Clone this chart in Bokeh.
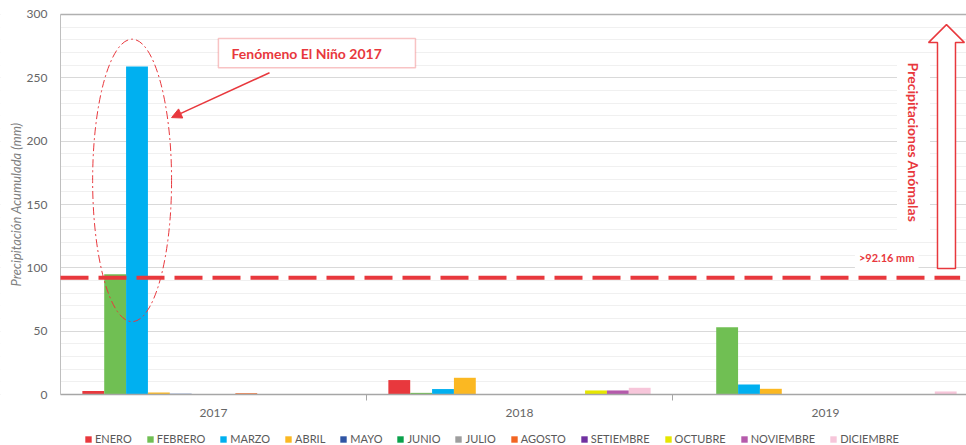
import math
from bokeh.plotting import figure
from bokeh.models import (Range1d, FixedTicker, Legend, LegendItem, Label,
                          Arrow, NormalHead, BoxAnnotation, ColumnDataSource)
from bokeh.embed import file_html
from bokeh.resources import INLINE

# ---------------- data ----------------
YEARS = ["2017", "2018", "2019"]
MONTHS = ["ENERO", "FEBRERO", "MARZO", "ABRIL", "MAYO", "JUNIO", "JULIO",
          "AGOSTO", "SETIEMBRE", "OCTUBRE", "NOVIEMBRE", "DICIEMBRE"]
ENERO = [2.8, 11.4, 0.0]
FEBRERO = [95.0, 1.3, 53.0]
MARZO = [259.0, 4.3, 7.9]
ABRIL = [1.5, 13.2, 4.5]
MAYO = [0.5, 0.0, 0.0]
JUNIO = [0.0, 0.0, 0.0]
JULIO = [0.0, 0.0, 0.0]
AGOSTO = [1.0, 0.0, 0.0]
SETIEMBRE = [0.3, 0.0, 0.0]
OCTUBRE = [0.0, 3.2, 0.2]
NOVIEMBRE = [0.0, 3.2, 0.3]
DICIEMBRE = [0.0, 5.3, 2.4]
SERIES = [ENERO, FEBRERO, MARZO, ABRIL, MAYO, JUNIO, JULIO, AGOSTO,
          SETIEMBRE, OCTUBRE, NOVIEMBRE, DICIEMBRE]
COLORS = ["#e8383d", "#70bf53", "#00b0f0", "#fbb822", "#2f55a4", "#0aa14b",
          "#9e9e9e", "#f26522", "#7030a0", "#e6e600", "#b55aab", "#f7c6da"]
THRESHOLD = 92.16
Y_TICKS = [0, 50, 100, 150, 200, 250, 300]
Y_MAX = 300

FONT = "Lato"
RED = "#e8383d"
GRAY = "#666666"

# frame covers the whole figure; axes are pinned at data 0
p = figure(width=966, height=445, output_backend="svg", toolbar_location=None,
           x_range=Range1d(-0.19608, 2.9608), y_range=Range1d(-40.26, 311.05),
           min_border=0)
p.outline_line_color = None
p.background_fill_color = "white"
p.border_fill_color = "white"

# grid
p.xgrid.grid_line_color = None
p.yaxis.ticker = FixedTicker(ticks=Y_TICKS, minor_ticks=list(range(0, Y_MAX + 1, 10)))
p.ygrid.grid_line_color = "#d9d9d9"
p.ygrid.minor_grid_line_color = "#f0f0f0"
# hide grid left of the y axis
p.add_layout(BoxAnnotation(right=0, fill_color="white", fill_alpha=1,
                           line_color=None, level="underlay"))
p.segment(x0=[0], y0=[Y_MAX], x1=[3], y1=[Y_MAX], line_color="#b0b0b0", line_width=1.5)

# y axis
p.yaxis.fixed_location = 0
p.yaxis.bounds = (0, Y_MAX)
p.yaxis.axis_line_color = "#bfbfbf"
p.yaxis.major_tick_line_color = None
p.yaxis.minor_tick_line_color = None
p.yaxis.major_label_text_font = FONT
p.yaxis.major_label_text_font_size = "12px"
p.yaxis.major_label_text_color = GRAY
p.yaxis.major_label_standoff = 7
p.yaxis.axis_label = "Precipitación Acumulada (mm)"
p.yaxis.axis_label_text_font = FONT
p.yaxis.axis_label_text_font_size = "13px"
p.yaxis.axis_label_text_font_style = "italic"
p.yaxis.axis_label_text_color = "#7f7f7f"
p.yaxis.axis_label_standoff = 0

# x axis (categories centred in groups, ticks at group boundaries)
centers = [i + 0.5 for i in range(len(YEARS))]
p.xaxis.fixed_location = 0
p.xaxis.bounds = (0, len(YEARS))
p.xaxis.ticker = FixedTicker(ticks=centers, minor_ticks=[1, 2])
p.xaxis.major_label_overrides = {c: y for c, y in zip(centers, YEARS)}
p.xaxis.axis_line_color = "#a6a6a6"
p.xaxis.axis_line_width = 1.5
p.xaxis.major_tick_line_color = None
p.xaxis.major_tick_out = 0
p.xaxis.minor_tick_line_color = "#a6a6a6"
p.xaxis.minor_tick_out = 6
p.xaxis.minor_tick_in = 0
p.xaxis.major_label_text_font = FONT
p.xaxis.major_label_text_font_size = "12px"
p.xaxis.major_label_text_color = GRAY
p.xaxis.major_label_standoff = 8

# bars
slot = 1.0 / 14
items = []
for i, (name, vals, col) in enumerate(zip(MONTHS, SERIES, COLORS)):
    src = ColumnDataSource(dict(x=[g + (i + 1.5) * slot for g in range(len(YEARS))], top=vals))
    r = p.vbar(x="x", top="top", width=slot, source=src, fill_color=col, line_color=None)
    items.append(LegendItem(label=name, renderers=[r]))

legend = Legend(items=items, orientation="horizontal", location=(84, 0),
                glyph_width=8, glyph_height=8, label_standoff=3, spacing=14,
                padding=2, margin=0, border_line_color=None,
                background_fill_alpha=0, label_height=12,
                label_text_font=FONT, label_text_font_size="11px",
                label_text_color="#595959")
p.add_layout(legend)

# annotations
p.ellipse(x=0.234, y=169, width=0.258, height=223, fill_color=None,
          line_color=RED, line_width=1, line_dash="8 3 2 3")

p.add_layout(BoxAnnotation(left=0.516, right=1.160, bottom=258, top=281,
                           fill_color="white", fill_alpha=1,
                           line_color=RED, line_width=1.5))
p.add_layout(Label(x=0.559, y=269.5, text="Fenómeno El Niño 2017",
                   text_font=FONT, text_font_style="bold", text_font_size="14px",
                   text_color=RED, text_baseline="middle"))
p.add_layout(Arrow(end=NormalHead(size=10, fill_color=RED, line_color=RED),
                   x_start=0.683, y_start=254, x_end=0.363, y_end=218.6,
                   line_color=RED, line_width=1.5))

p.add_layout(Arrow(end=None, x_start=0, y_start=THRESHOLD, x_end=2.94,
                   y_end=THRESHOLD, line_color=RED, line_width=4,
                   line_dash="28 10"))

p.add_layout(Label(x=2.804, y=108, text=">%.2f mm" % THRESHOLD,
                   text_font=FONT, text_font_style="bold", text_font_size="11px",
                   text_color=RED, text_align="right", text_baseline="middle",
                   background_fill_color="white", padding=4))
p.add_layout(Label(x=2.7876, y=199, text="Precipitaciones Anómalas",
                   angle=-math.pi / 2,
                   text_font=FONT, text_font_style="bold", text_font_size="14px",
                   text_color=RED, text_align="center", text_baseline="middle",
                   background_fill_color="white", padding=8))

ax = [2.8660, 2.8660, 2.8366, 2.8954, 2.9542, 2.9248, 2.9248]
ay = [99.4, 277.8, 277.8, 292.0, 277.8, 277.8, 99.4]
p.patch(ax, ay, fill_color="white", line_color=RED, line_width=1.5)

open("out.html", "w").write(file_html(p, INLINE))
